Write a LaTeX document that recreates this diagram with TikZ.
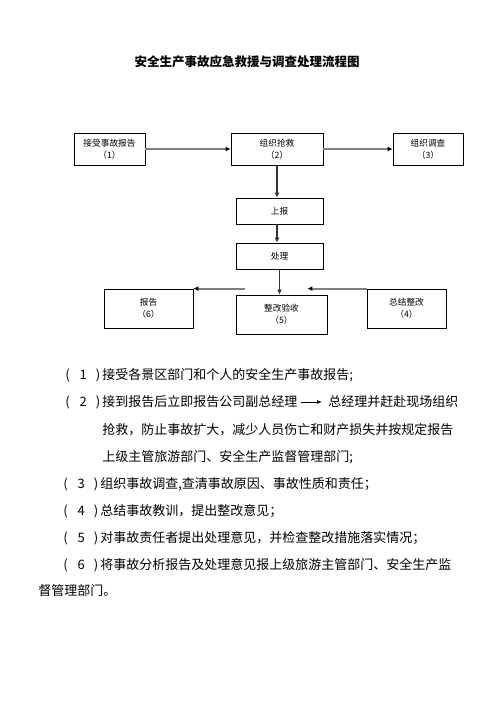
\documentclass[tikz,border=0pt]{standalone}
\usepackage{fontspec}
\setmainfont{Noto Sans CJK SC}
\usetikzlibrary{arrows.meta,positioning}
\XeTeXlinebreaklocale "zh"
\XeTeXlinebreakskip=0pt plus 3pt minus 1pt

% serial number like ( 1 )
\newcommand{\xuhao}[1]{(\hspace{10pt}#1\hspace{9pt})\hspace{2pt}}
% one line of text spread to a given width
\newcommand{\hang}[2]{\makebox[#1][s]{#2}}

\tikzset{
  liucheng/.style={
    rectangle,
    draw=black,
    line width=0.8pt,
    align=center,
    inner sep=0pt,
    font=\fontsize{8.7}{12}\selectfont
    },
  huijian/.style={line width=1.8pt, draw=black!50, -{Latex[length=5pt,width=5pt,color=black]}},
  heijian/.style={line width=1.3pt, draw=black!80, -{Latex[length=5pt,width=5pt]}},
  zhengwen/.style={anchor=west, inner sep=0pt, font=\fontsize{13}{13}\selectfont},
}

\begin{document}
\begin{tikzpicture}[
            x = 1pt, y = -1pt, % pixel grid of the page
            semithick
        ]
  \useasboundingbox (0,0) rectangle (496,702);

  \node[font=\fontsize{12.5}{12.5}\selectfont\bfseries] (title) at (247,62) {安全生产事故应急救援与调查处理流程图};

  % flow chart
  \node[liucheng, minimum width=71pt, minimum height=32pt] (b1) at (109.5,149) {接受事故报告\\（1）};
  \node[liucheng, minimum width=92pt, minimum height=32pt] (b2) at (277,149) {组织抢救\\（2）};
  \node[liucheng, minimum width=70pt, minimum height=32pt] (b3) at (428,149) {组织调查\\（3）};
  \node[liucheng, minimum width=87pt, minimum height=26pt] (sb) at (279.5,211) {上报};
  \node[liucheng, minimum width=87pt, minimum height=26pt] (cl) at (279.5,256) {处理};
  \node[liucheng, minimum width=91pt, minimum height=39pt] (b5) at (281.5,314.5) {整改验收\\（5）};
  \node[liucheng, minimum width=89pt, minimum height=39pt] (b6) at (148.5,308.5) {报告\\（6）};
  \node[liucheng, minimum width=79pt, minimum height=39pt] (b4) at (406.5,308.5) {总结整改\\（4）};

  \coordinate (f6) at ([xshift=9pt,yshift=6pt]b5.north west);
  \coordinate (f4) at ([xshift=-20pt,yshift=6pt]b5.north east);

  \draw[huijian] (b1) -- (b2);
  \draw[huijian] (b2) -- (b3);
  \draw[heijian] (b2.south) -- (b2.south |- sb.north);
  \draw[heijian] (b2.south |- sb.south) -- (b2.south |- cl.north);
  \draw[heijian] (cl) -- (cl |- b5.north);
  \draw[huijian] (f6) -- (b6.north east);
  \draw[huijian] (b4.north west) -- (f4);

  % explanation
  \node[zhengwen] (l1) at (65,375) {\hang{292pt}{\xuhao{1}接受各景区部门和个人的安全生产事故报告;}};
  \node[zhengwen] (l2a) at (65,402) {\hang{235pt}{\xuhao{2}接到报告后立即报告公司副总经理}};
  \node[zhengwen] (l2b) at (328,402) {\hang{130pt}{总经理并赶赴现场组织}};
  \node[zhengwen] (l3) at (102,430) {\hang{356pt}{抢救，防止事故扩大，减少人员伤亡和财产损失并按规定报告}};
  \node[zhengwen] (l4) at (102,457) {\hang{256pt}{上级主管旅游部门、安全生产监督管理部门;}};
  \node[zhengwen] (l5) at (63,484) {\hang{314pt}{\xuhao{3}组织事故调查,查清事故原因、事故性质和责任；}};
  \node[zhengwen] (l6) at (63,511) {\hang{213pt}{\xuhao{4}总结事故教训，提出整改意见；}};
  \node[zhengwen] (l7) at (63,538) {\hang{381pt}{\xuhao{5}对事故责任者提出处理意见，并检查整改措施落实情况；}};
  \node[zhengwen] (l8) at (63,565) {\hang{395pt}{\xuhao{6}将事故分析报告及处理意见报上级旅游主管部门、安全生产监}};
  \node[zhengwen] (l9) at (38,591) {督管理部门。};

  \draw[line width=0.8pt, -{Latex[length=5pt,width=4pt]}, shorten >=6pt] (l2a) -- (l2b);
\end{tikzpicture}
\end{document}
